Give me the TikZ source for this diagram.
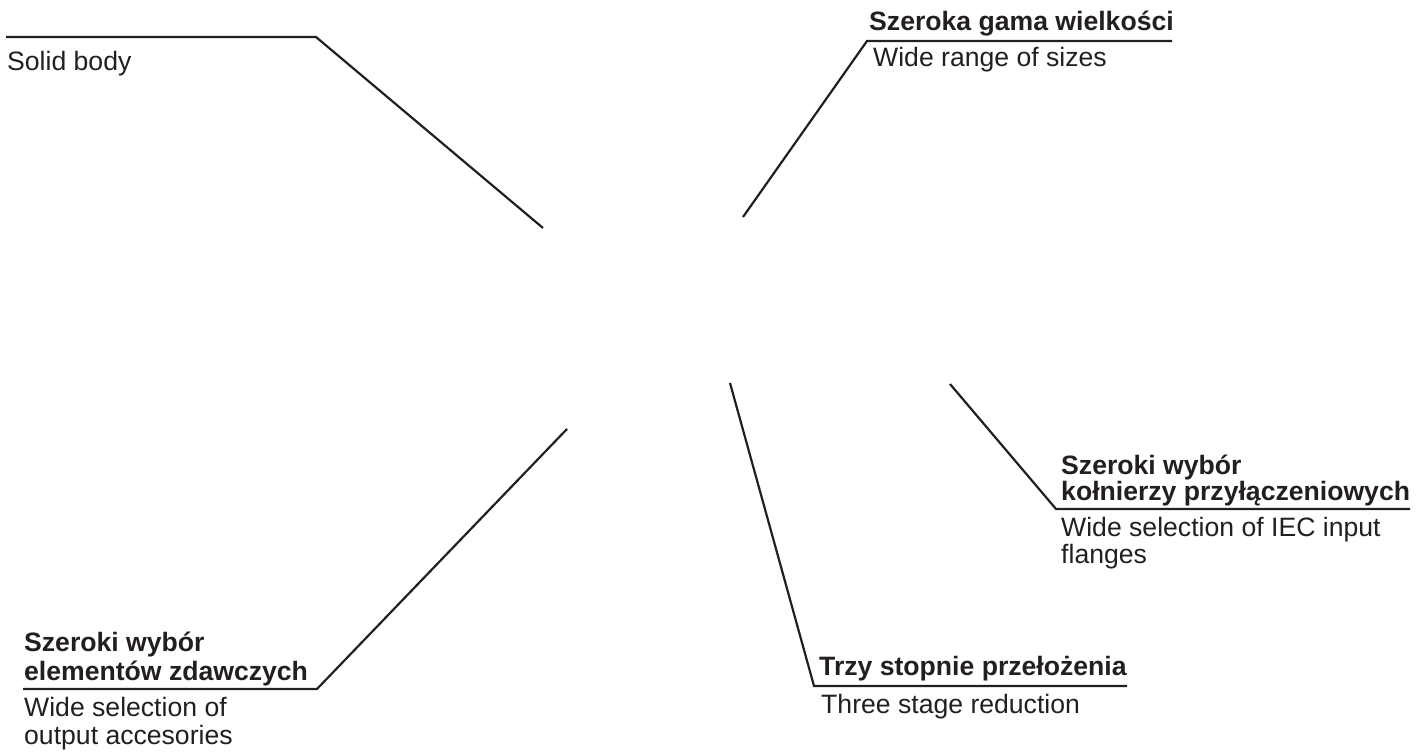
\documentclass[tikz,border=0pt]{standalone}
\usepackage{fontspec}
\setmainfont{Liberation Sans}
\definecolor{ink}{HTML}{231F20}
\begin{document}
\begin{tikzpicture}[x=1pt,y=-1pt,
  lbl/.style={anchor=base west,inner sep=0pt,text=ink,font=\fontsize{26.6}{28}\selectfont},
  blbl/.style={lbl,font=\fontsize{26.6}{28}\selectfont\bfseries},
  leader/.style={draw=ink,line width=2.2pt}]
\useasboundingbox (0,0) rectangle (1426,754);
% Solid body
\node[lbl] (solid) at (7,71) {Solid body};
\coordinate (s0) at (6,37);
\coordinate (s1) at (316,37);
\coordinate (s2) at (543,228);
\draw[leader] (s0) -- (s1) -- (s2);
% Szeroka gama wielkosci
\node[blbl] (gama) at (869,31) {Szeroka gama wielkości};
\node[lbl] (gamaen) at (873,67) {Wide range of sizes};
\coordinate (g0) at (1172,41);
\coordinate (g1) at (867,41);
\coordinate (g2) at (743,217);
\draw[leader] (g0) -- (g1) -- (g2);
% Kolnierzy
\node[blbl] (k1) at (1061,474) {Szeroki wybór};
\node[blbl] (k2) at (1061,500) {kołnierzy przyłączeniowych};
\node[lbl] (k3) at (1061,536) {Wide selection of IEC input};
\node[lbl] (k4) at (1061,563) {flanges};
\coordinate (k0a) at (1410,509);
\coordinate (k0b) at (1056,509);
\coordinate (k0c) at (950,384);
\draw[leader] (k0a) -- (k0b) -- (k0c);
% Trzy stopnie
\node[blbl] (t1) at (819,675) {Trzy stopnie przełożenia};
\node[lbl] (t2) at (821,713) {Three stage reduction};
\coordinate (t0a) at (1127,686);
\coordinate (t0b) at (814,686);
\coordinate (t0c) at (730,383);
\draw[leader] (t0a) -- (t0b) -- (t0c);
% Elementow zdawczych
\node[blbl] (e1) at (24,651) {Szeroki wybór};
\node[blbl] (e2) at (24,680) {elementów zdawczych};
\node[lbl] (e3) at (24,716) {Wide selection of};
\node[lbl] (e4) at (24,744) {output accesories};
\coordinate (e0a) at (23,689);
\coordinate (e0b) at (317,689);
\coordinate (e0c) at (567,429);
\draw[leader] (e0a) -- (e0b) -- (e0c);
\end{tikzpicture}
\end{document}
